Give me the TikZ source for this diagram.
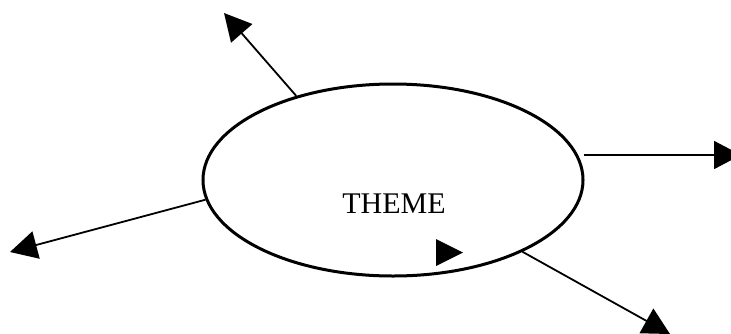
\documentclass[tikz,border=0pt]{standalone}
\usepackage{fontspec}
\setmainfont{Liberation Serif}
\usetikzlibrary{arrows.meta,shapes.geometric}

\begin{document}
\begin{tikzpicture}[x=1bp,y=-1bp,
  themebox/.style={draw, line width=3bp, ellipse, minimum width=380bp,
                   minimum height=192bp, inner sep=0pt},
  ray/.style={line width=1.8bp, -{Triangle[length=27bp,width=28bp]}},
  caption/.style={font=\fontsize{30bp}{30bp}\selectfont, inner sep=0pt, anchor=base}
]
\useasboundingbox (0,0) rectangle (731,333);

% central theme ellipse and its label
\node[themebox] (theme) at (393,180) {};
\node[caption] (label) at (394,213) {THEME};

% free ends of the spokes
\coordinate (nw) at (224,13);
\coordinate (e)  at (741,155);
\coordinate (w)  at (10,252);
\coordinate (se) at (670,334);

% spokes leaving the ellipse
\draw[ray] (theme.139.7) -- (nw);
\draw[ray] (584,155) -- (e);
\draw[ray] (theme.186.9) -- (w);
\draw[ray] (theme.-29.3) -- (se);

% loose arrowhead inside the ellipse
\fill (436,239) -- (463,252.5) -- (436,266) -- cycle;
\end{tikzpicture}
\end{document}
